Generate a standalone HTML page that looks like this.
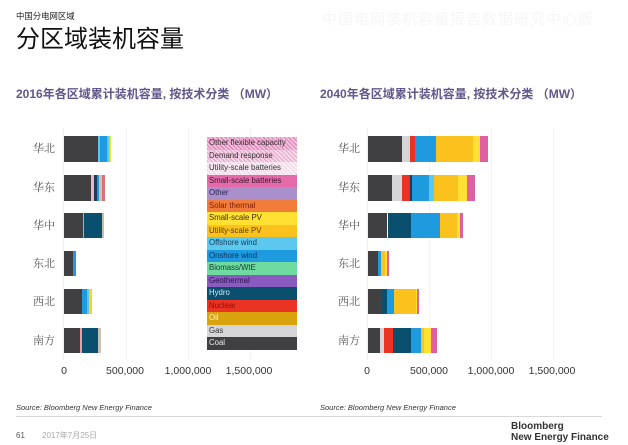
<!DOCTYPE html>
<html>
<head>
<meta charset="utf-8">
<style>
*{margin:0;padding:0;box-sizing:border-box}
html,body{width:628px;height:445px;background:#fff;overflow:hidden}
body{position:relative;font-family:"Liberation Sans","Noto Sans CJK SC",sans-serif}
.a{position:absolute;white-space:nowrap}
.s{position:absolute}
.lbl{position:absolute;font-family:"Liberation Serif","Noto Serif CJK SC",serif;font-size:11px;color:#555;line-height:12px}
.tick{position:absolute;font-size:10.5px;color:#333;line-height:12px;transform:translateX(-50%)}
.g{position:absolute;width:1px;background:#f3f3f3;top:128px;height:232px}
.lg{position:absolute;left:207px;width:90px;height:12.5px;font-size:7.8px;line-height:12.5px;padding-left:2px;color:#333}
</style>
</head>
<body>
<div class="a" style="left:322px;top:8px;font-size:15px;color:#f6f6f6;font-family:'Noto Sans CJK SC',sans-serif;letter-spacing:1px">中国电网装机容量报告数据研究中心版</div>

<div class="a" style="left:16px;top:11px;font-size:8.4px;line-height:10px;color:#222;font-family:'Noto Sans CJK SC',sans-serif">中国分电网区域</div>
<div class="a" style="left:16px;top:23px;font-size:24px;line-height:28px;color:#111;font-family:'Noto Sans CJK SC',sans-serif">分区域装机容量</div>

<div class="a" style="left:16px;top:86px;font-size:12px;line-height:16px;color:#62568a;font-weight:bold;font-family:'Liberation Sans','Noto Sans CJK SC',sans-serif">2016年各区域累计装机容量, 按技术分类 （MW）</div>
<div class="a" style="left:320px;top:86px;font-size:12px;line-height:16px;color:#62568a;font-weight:bold;font-family:'Liberation Sans','Noto Sans CJK SC',sans-serif">2040年各区域累计装机容量, 按技术分类 （MW）</div>

<div class="g" style="left:63px;background:#eeeeee"></div>
<div class="g" style="left:126px"></div>
<div class="g" style="left:188px"></div>
<div class="g" style="left:250px"></div>
<div class="g" style="left:367px;background:#eeeeee"></div>
<div class="g" style="left:429px"></div>
<div class="g" style="left:491px"></div>
<div class="g" style="left:553px"></div>

<div class="lbl" style="left:33px;top:143px">华北</div>
<div class="lbl" style="left:33px;top:182px">华东</div>
<div class="lbl" style="left:33px;top:220px">华中</div>
<div class="lbl" style="left:33px;top:258px">东北</div>
<div class="lbl" style="left:33px;top:296px">西北</div>
<div class="lbl" style="left:33px;top:335px">南方</div>
<div class="lbl" style="left:338px;top:143px">华北</div>
<div class="lbl" style="left:338px;top:182px">华东</div>
<div class="lbl" style="left:338px;top:220px">华中</div>
<div class="lbl" style="left:338px;top:258px">东北</div>
<div class="lbl" style="left:338px;top:296px">西北</div>
<div class="lbl" style="left:338px;top:335px">南方</div>

<div class="s" style="left:64px;top:136px;width:34px;height:26px;background:#404042"></div>
<div class="s" style="left:98px;top:136px;width:2px;height:26px;background:#5cc8ee"></div>
<div class="s" style="left:100px;top:136px;width:7px;height:26px;background:#1e9ade"></div>
<div class="s" style="left:107px;top:136px;width:2px;height:26px;background:#5cc8ee"></div>
<div class="s" style="left:109px;top:136px;width:1px;height:26px;background:#fbc21e"></div>
<div class="s" style="left:110px;top:136px;width:1px;height:26px;background:#ffe033"></div>

<div class="s" style="left:64px;top:175px;width:27px;height:26px;background:#404042"></div>
<div class="s" style="left:91px;top:175px;width:3px;height:26px;background:#e9b8c0"></div>
<div class="s" style="left:94px;top:175px;width:3px;height:26px;background:#1b3a5c"></div>
<div class="s" style="left:97px;top:175px;width:2px;height:26px;background:#1e9ade"></div>
<div class="s" style="left:99px;top:175px;width:3px;height:26px;background:#d6c2a8"></div>
<div class="s" style="left:102px;top:175px;width:3px;height:26px;background:#d9707a"></div>

<div class="s" style="left:64px;top:213px;width:19px;height:25px;background:#404042"></div>
<div class="s" style="left:83px;top:213px;width:1px;height:25px;background:#9ab8c8"></div>
<div class="s" style="left:84px;top:213px;width:18px;height:25px;background:#0a4f6e"></div>
<div class="s" style="left:102px;top:213px;width:2px;height:25px;background:#cdbf9a"></div>

<div class="s" style="left:64px;top:251px;width:9px;height:25px;background:#404042"></div>
<div class="s" style="left:73px;top:251px;width:3px;height:25px;background:#1e9ade"></div>

<div class="s" style="left:64px;top:289px;width:18px;height:25px;background:#404042"></div>
<div class="s" style="left:82px;top:289px;width:5px;height:25px;background:#1e9ade"></div>
<div class="s" style="left:87px;top:289px;width:1.5px;height:25px;background:#5cc8ee"></div>
<div class="s" style="left:88.5px;top:289px;width:3px;height:25px;background:#ffd21e"></div>

<div class="s" style="left:64px;top:328px;width:16px;height:25px;background:#404042"></div>
<div class="s" style="left:80px;top:328px;width:2.3px;height:25px;background:#e8a0a0"></div>
<div class="s" style="left:82.3px;top:328px;width:16px;height:25px;background:#0a4f6e"></div>
<div class="s" style="left:98.3px;top:328px;width:3px;height:25px;background:#c8c0b0"></div>

<div class="s" style="left:368px;top:136px;width:34.3px;height:26px;background:#404042"></div>
<div class="s" style="left:402.3px;top:136px;width:7.7px;height:26px;background:#d5d5d8"></div>
<div class="s" style="left:410px;top:136px;width:5px;height:26px;background:#ea3323"></div>
<div class="s" style="left:415px;top:136px;width:21px;height:26px;background:#1e9ade"></div>
<div class="s" style="left:436px;top:136px;width:37.3px;height:26px;background:#fbc21e"></div>
<div class="s" style="left:473.3px;top:136px;width:6.7px;height:26px;background:#ffe033"></div>
<div class="s" style="left:480px;top:136px;width:8.3px;height:26px;background:#e05fa0"></div>

<div class="s" style="left:368px;top:175px;width:24.3px;height:26px;background:#404042"></div>
<div class="s" style="left:392.3px;top:175px;width:10px;height:26px;background:#d5d5d8"></div>
<div class="s" style="left:402.3px;top:175px;width:7.7px;height:26px;background:#ea3323"></div>
<div class="s" style="left:410px;top:175px;width:2.3px;height:26px;background:#1b3a5c"></div>
<div class="s" style="left:412.3px;top:175px;width:16.7px;height:26px;background:#1e9ade"></div>
<div class="s" style="left:429px;top:175px;width:5px;height:26px;background:#5cc8ee"></div>
<div class="s" style="left:434px;top:175px;width:24.3px;height:26px;background:#fbc21e"></div>
<div class="s" style="left:458.3px;top:175px;width:8.4px;height:26px;background:#ffe033"></div>
<div class="s" style="left:466.7px;top:175px;width:8.3px;height:26px;background:#e05fa0"></div>

<div class="s" style="left:368px;top:213px;width:18.7px;height:25px;background:#404042"></div>
<div class="s" style="left:387.7px;top:213px;width:23.3px;height:25px;background:#0a4f6e"></div>
<div class="s" style="left:411px;top:213px;width:29px;height:25px;background:#1e9ade"></div>
<div class="s" style="left:440px;top:213px;width:16.7px;height:25px;background:#fbc21e"></div>
<div class="s" style="left:456.7px;top:213px;width:3.3px;height:25px;background:#ffe033"></div>
<div class="s" style="left:460px;top:213px;width:3.3px;height:25px;background:#e05fa0"></div>

<div class="s" style="left:368px;top:251px;width:8.7px;height:25px;background:#404042"></div>
<div class="s" style="left:376.7px;top:251px;width:1.6px;height:25px;background:#0a4f6e"></div>
<div class="s" style="left:378.3px;top:251px;width:2.4px;height:25px;background:#1e9ade"></div>
<div class="s" style="left:380.7px;top:251px;width:4.3px;height:25px;background:#fbc21e"></div>
<div class="s" style="left:385px;top:251px;width:2px;height:25px;background:#ffe033"></div>
<div class="s" style="left:387px;top:251px;width:2.3px;height:25px;background:#e05fa0"></div>

<div class="s" style="left:368px;top:289px;width:14.3px;height:25px;background:#404042"></div>
<div class="s" style="left:382.3px;top:289px;width:4.4px;height:25px;background:#0a4f6e"></div>
<div class="s" style="left:386.7px;top:289px;width:7.3px;height:25px;background:#1e9ade"></div>
<div class="s" style="left:394px;top:289px;width:21.7px;height:25px;background:#fbc21e"></div>
<div class="s" style="left:415.7px;top:289px;width:1.3px;height:25px;background:#ffe033"></div>
<div class="s" style="left:417px;top:289px;width:2.3px;height:25px;background:#e05fa0"></div>

<div class="s" style="left:368px;top:328px;width:12px;height:25px;background:#404042"></div>
<div class="s" style="left:380px;top:328px;width:4.3px;height:25px;background:#d5d5d8"></div>
<div class="s" style="left:384.3px;top:328px;width:9px;height:25px;background:#ea3323"></div>
<div class="s" style="left:393.3px;top:328px;width:17.7px;height:25px;background:#0a4f6e"></div>
<div class="s" style="left:411px;top:328px;width:10px;height:25px;background:#1e9ade"></div>
<div class="s" style="left:421px;top:328px;width:3px;height:25px;background:#fbc21e"></div>
<div class="s" style="left:424px;top:328px;width:7px;height:25px;background:#ffe033"></div>
<div class="s" style="left:431px;top:328px;width:5.7px;height:25px;background:#e05fa0"></div>

<div class="lg" style="top:137px;background:repeating-linear-gradient(45deg,#e58cc0 0 1.5px,#f3c6df 1.5px 3px)">Other flexible capacity</div>
<div class="lg" style="top:149.5px;background:repeating-linear-gradient(45deg,#eab1d2 0 1.5px,#f7dbea 1.5px 3px)">Demand response</div>
<div class="lg" style="top:162px;background:repeating-linear-gradient(45deg,#f2dbe9 0 1.5px,#fbf1f6 1.5px 3px)">Utility-scale batteries</div>
<div class="lg" style="top:174.5px;background:#e46aa8;color:#3a1a35">Small-scale batteries</div>
<div class="lg" style="top:187px;background:#a990cc;color:#2a2050">Other</div>
<div class="lg" style="top:199.5px;background:#f27c3a;color:#7a1e08">Solar thermal</div>
<div class="lg" style="top:212px;background:#ffe033;color:#3a3010">Small-scale PV</div>
<div class="lg" style="top:224.5px;background:#fbc21e;color:#5a4010">Utility-scale PV</div>
<div class="lg" style="top:237px;background:#5cc8ee;color:#123a5a">Offshore wind</div>
<div class="lg" style="top:249.5px;background:#1e9ade;color:#0a3266">Onshore wind</div>
<div class="lg" style="top:262px;background:#6fdba0;color:#123a32">Biomass/WtE</div>
<div class="lg" style="top:274.5px;background:#8a5bbf;color:#2a1450">Geothermal</div>
<div class="lg" style="top:287px;background:#0a4f6e;color:#cfe8f5">Hydro</div>
<div class="lg" style="top:299.5px;background:#ea3323;color:#8a1208">Nuclear</div>
<div class="lg" style="top:312px;background:#d8a30c;color:#fff3c8">Oil</div>
<div class="lg" style="top:324.5px;background:#d5d5d8;color:#333">Gas</div>
<div class="lg" style="top:337px;background:#404042;color:#eee">Coal</div>

<div class="tick" style="left:64px;top:365px">0</div>
<div class="tick" style="left:125px;top:365px">500,000</div>
<div class="tick" style="left:188px;top:365px">1,000,000</div>
<div class="tick" style="left:249px;top:365px">1,500,000</div>
<div class="tick" style="left:367px;top:365px">0</div>
<div class="tick" style="left:429px;top:365px">500,000</div>
<div class="tick" style="left:491px;top:365px">1,000,000</div>
<div class="tick" style="left:552px;top:365px">1,500,000</div>

<div class="a" style="left:16px;top:403px;font-size:7.5px;font-style:italic;color:#333;line-height:10px">Source: Bloomberg New Energy Finance</div>
<div class="a" style="left:320px;top:403px;font-size:7.5px;font-style:italic;color:#333;line-height:10px">Source: Bloomberg New Energy Finance</div>
<div class="s" style="left:16px;top:416px;width:586px;height:1px;background:#d8d8d8"></div>

<div class="a" style="left:16px;top:431px;font-size:8px;color:#555;line-height:10px">61</div>
<div class="a" style="left:42px;top:431px;font-size:8px;color:#aaa;line-height:10px;font-family:'Liberation Sans','Noto Sans CJK SC',sans-serif">2017年7月25日</div>

<div class="a" style="left:511px;top:421px;font-size:10px;color:#333;line-height:11px;font-weight:bold">Bloomberg</div>
<div class="a" style="left:511px;top:432px;font-size:10px;color:#333;line-height:11px;font-weight:bold">New Energy Finance</div>
</body>
</html>
